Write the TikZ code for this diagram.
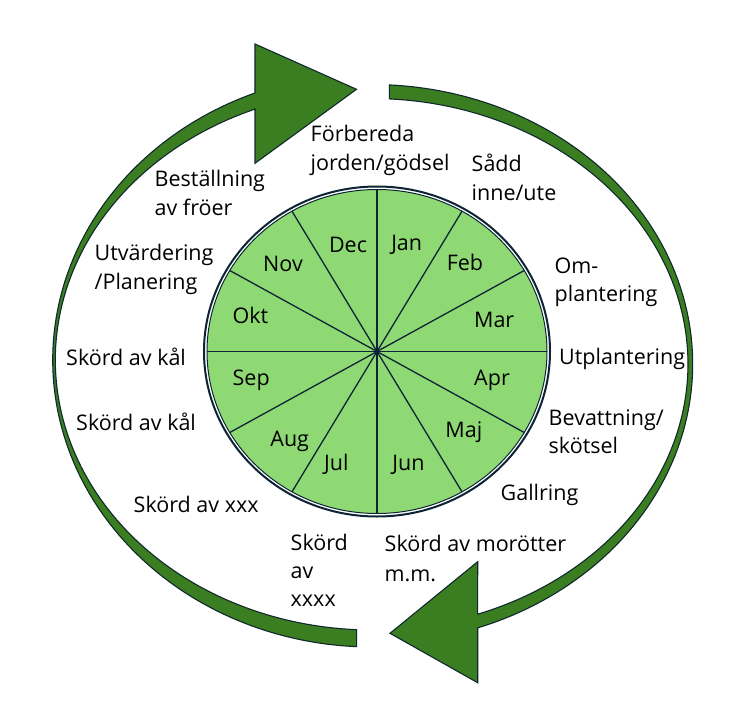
\documentclass[tikz,border=0pt]{standalone}
\usepackage{fontspec}
\setmainfont{Open Sans}
\definecolor{leaf}{RGB}{143,217,116}
\definecolor{forest}{RGB}{59,126,34}
\definecolor{edgecol}{RGB}{16,40,45}
\definecolor{rimcol}{RGB}{12,36,52}
\begin{document}
\begin{tikzpicture}[x=1pt,y=-1pt,
  lbl/.style={font=\fontsize{21.5}{28}\selectfont, inner sep=0pt, anchor=base west, text=black},
  mon/.style={font=\fontsize{21.5}{28}\selectfont, inner sep=0pt, anchor=base, text=black},
  bigarrow/.style={fill=forest, draw=edgecol, line width=1.1pt, line join=miter},
  spoke/.style={draw=rimcol, line width=1.3pt},
  wheel/.style={fill=leaf, draw=rimcol, line width=1pt},
  rim/.style={draw=rimcol, line width=2pt}]
\useasboundingbox (0,0) rectangle (753,720);
\fill[white] (0,0) rectangle (753,720);

% left arrow (head at top, pointing right)
\draw[bigarrow] (255,44) -- (356.5,89.3) -- (255,163.3) -- (255,109.1)
  -- plot[domain=248.32:92.77, samples=120, variable=\t] ({372+316.7*cos(\t)},{360+270*sin(\t)})
  -- plot[domain=92.75:248.5, samples=120, variable=\t] ({372+319.3*cos(\t)},{360+287*sin(\t)})
  -- cycle;

% right arrow (head at bottom, pointing left)
\draw[bigarrow] plot[domain=-86.9:70.75, samples=120, variable=\t] ({372+320.7*cos(\t)},{364+279.5*sin(\t)})
  -- (477.7,682.7) -- (390,633.3) -- (477.7,561.7)
  -- plot[domain=70.46:-86.86, samples=120, variable=\t] ({372+316*cos(\t)},{364+265.5*sin(\t)})
  -- cycle;

% wheel
\coordinate (c) at (377,351.5);
\draw[wheel] (c) ellipse [x radius=170pt, y radius=162pt];
\draw[rim] (c) ellipse [x radius=173pt, y radius=165pt];
\foreach \a in {0,30,...,330}
  \draw[spoke] (c) -- ++({170*cos(\a)},{162*sin(\a)});

% months
\node[mon] (jan) at (406.7,250.7) {Jan};
\node[mon] (feb) at (465,270) {Feb};
\node[mon] (mar) at (494.2,327.7) {Mar};
\node[mon] (apr) at (492,385) {Apr};
\node[mon] (maj) at (463.8,437.7) {Maj};
\node[mon] (jun) at (408.5,470) {Jun};
\node[mon] (jul) at (336.3,470) {Jul};
\node[mon] (aug) at (289.7,446.7) {Aug};
\node[mon] (sep) at (251.2,385) {Sep};
\node[mon] (okt) at (250.5,323.3) {Okt};
\node[mon] (nov) at (283,271.7) {Nov};
\node[mon] (dec) at (348,252.7) {Dec};

% activities
\node[lbl] (forb1) at (310.5,141.7) {Förbereda};
\node[lbl] (forb2) at (310.5,170.5) {jorden/gödsel};
\node[lbl] (sadd1) at (471.5,171.7) {Sådd};
\node[lbl] (sadd2) at (471.5,200) {inne/ute};
\node[lbl] (om1) at (554.5,273.3) {Om-};
\node[lbl] (om2) at (554.5,301.7) {plantering};
\node[lbl] (utpl) at (559,364) {Utplantering};
\node[lbl] (bev1) at (548.5,425) {Bevattning/};
\node[lbl] (bev2) at (548.5,453.3) {skötsel};
\node[lbl] (gall) at (500.5,500) {Gallring};
\node[lbl] (mor1) at (384.5,551.7) {Skörd av morötter};
\node[lbl] (mor2) at (384.5,581) {m.m.};
\node[lbl] (xx1) at (290.5,550) {Skörd};
\node[lbl] (xx2) at (290.5,578.3) {av};
\node[lbl] (xx3) at (290.5,606.7) {xxxx};
\node[lbl] (xxx) at (133.5,512.7) {Skörd av xxx};
\node[lbl] (kal2) at (76,430) {Skörd av kål};
\node[lbl] (kal1) at (66,365) {Skörd av kål};
\node[lbl] (utv1) at (94.5,260.7) {Utvärdering};
\node[lbl] (utv2) at (94.5,289) {/Planering};
\node[lbl] (best1) at (154.5,186.7) {Beställning};
\node[lbl] (best2) at (154.5,215.7) {av fröer};
\end{tikzpicture}
\end{document}
